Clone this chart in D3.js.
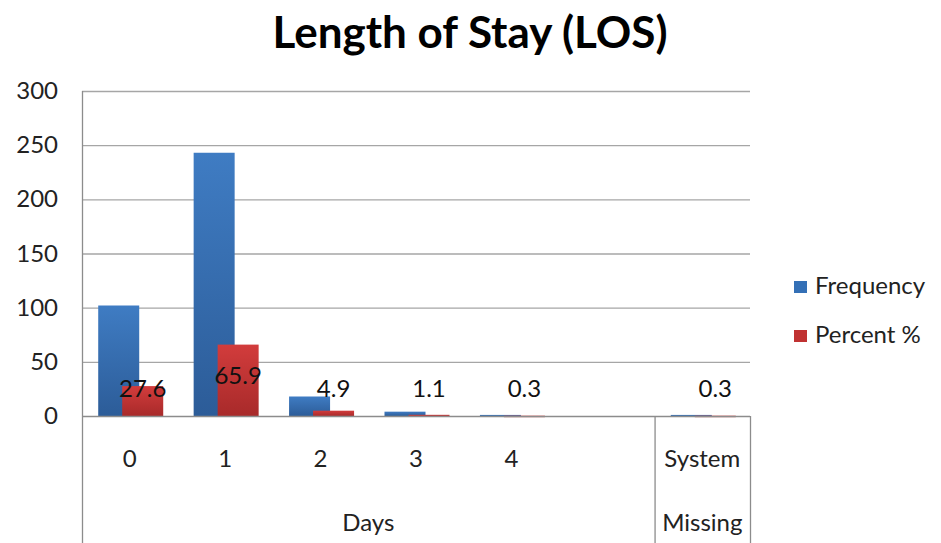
<!DOCTYPE html>
<html><head><meta charset="utf-8">
<script src="https://cdn.jsdelivr.net/npm/d3@7"></script>
<style>
html,body{margin:0;padding:0;background:#fff;}
svg{display:block;font-family:Lato,"Open Sans",sans-serif;}
</style></head>
<body><svg id="c" width="941" height="543"></svg>
<script>
const categories = ["0","1","2","3","4","","System"];
const groups = [{label:"Days", from:0, to:5},{label:"Missing", from:6, to:6}];
const frequency = [102, 243, 18, 4, 1, null, 1];
const percent = [27.6, 65.9, 4.9, 1.1, 0.3, null, 0.3];
const yTicks = [0, 50, 100, 150, 200, 250, 300];
const seriesNames = ["Frequency", "Percent %"];
const title = "Length of Stay (LOS)";

const svg = d3.select("#c");
const L = 82, R = 750, T = 91, B = 416;
const FS = 24;
const x = d3.scaleBand().domain(d3.range(categories.length)).range([L, R]).paddingInner(0).paddingOuter(0);
const y = d3.scaleLinear().domain([0, 300]).range([B, T]);

const defs = svg.append("defs");
function grad(id, c1, c2){
  const g = defs.append("linearGradient").attr("id", id).attr("x1",0).attr("y1",0).attr("x2",0).attr("y2",1);
  g.append("stop").attr("offset","0%").attr("stop-color",c1);
  g.append("stop").attr("offset","100%").attr("stop-color",c2);
}
grad("gBlue", "#3f7cc3", "#2c5c98");
grad("gRed", "#d23c3c", "#a82a2a");
const colors = ["url(#gBlue)", "url(#gRed)"];
const legendColors = ["#3470b6", "#c03232"];

// title
svg.append("text").attr("x", 470).attr("y", 48).attr("text-anchor","middle")
  .attr("font-size", 44).attr("font-weight","bold").attr("fill","#000").text(title);

// gridlines
svg.append("g").selectAll("line").data(yTicks.filter(d=>d>0)).join("line")
  .attr("x1", L).attr("x2", R).attr("y1", d=>y(d)+0.5).attr("y2", d=>y(d)+0.5)
  .attr("stroke", "#a6a6a6").attr("stroke-width", 1.3);

// y labels
svg.append("g").selectAll("text").data(yTicks).join("text")
  .attr("x", 58).attr("y", d=>y(d)+8).attr("text-anchor","end")
  .attr("font-size", FS).attr("fill","#222").text(d=>d);

// bars
const bw = 41, offs = [-11, 13];
const barData = [];
categories.forEach((c,i)=>{
  [frequency, percent].forEach((s,k)=>{
    if (s[i] != null) barData.push({i, k, v: s[i]});
  });
});
svg.append("g").selectAll("rect").data(barData).join("rect")
  .attr("x", d => x(d.i) + x.bandwidth()/2 + offs[d.k] - bw/2)
  .attr("width", bw)
  .attr("y", d => y(d.v))
  .attr("height", d => Math.max(1.5, B - y(d.v)))
  .attr("fill", d => colors[d.k]);

// data labels for percent
svg.append("g").selectAll("text").data(percent.map((v,i)=>({v,i})).filter(d=>d.v!=null)).join("text")
  .attr("x", d => x(d.i) + x.bandwidth()/2 + offs[1])
  .attr("y", d => Math.min(397, y(d.v) + 39))
  .attr("text-anchor","middle").attr("font-size", FS).attr("fill","#111")
  .text(d => d.v.toFixed(1));

// category axis lines
const ax = svg.append("g").attr("stroke","#8c8c8c").attr("stroke-width",1.3);
ax.append("line").attr("x1", L).attr("x2", R).attr("y1", B+0.5).attr("y2", B+0.5);
ax.append("line").attr("x1", L+0.5).attr("x2", L+0.5).attr("y1", T).attr("y2", 543);
const seps = [x(groups[1].from), R];
ax.selectAll(".sep").data(seps).join("line").attr("class","sep")
  .attr("x1", d=>d+0.5).attr("x2", d=>d+0.5).attr("y1", B).attr("y2", 543);

// category labels
svg.append("g").selectAll("text").data(categories).join("text")
  .attr("x", (d,i) => x(i) + x.bandwidth()/2).attr("y", 467)
  .attr("text-anchor","middle").attr("font-size", FS).attr("fill","#222").text(d=>d);

// group labels
svg.append("g").selectAll("text").data(groups).join("text")
  .attr("x", g => (x(g.from) + x(g.to) + x.bandwidth())/2).attr("y", 531)
  .attr("text-anchor","middle").attr("font-size", FS).attr("fill","#222").text(g=>g.label);

// legend
const lg = svg.append("g").selectAll("g").data(seriesNames).join("g")
  .attr("transform", (d,i)=>`translate(794, ${281 + i*49})`);
lg.append("rect").attr("width", 13).attr("height", 12).attr("fill", (d,i)=>legendColors[i]);
lg.append("text").attr("x", 21).attr("y", 13).attr("font-size", FS).attr("fill","#222").text(d=>d);
</script></body></html>
